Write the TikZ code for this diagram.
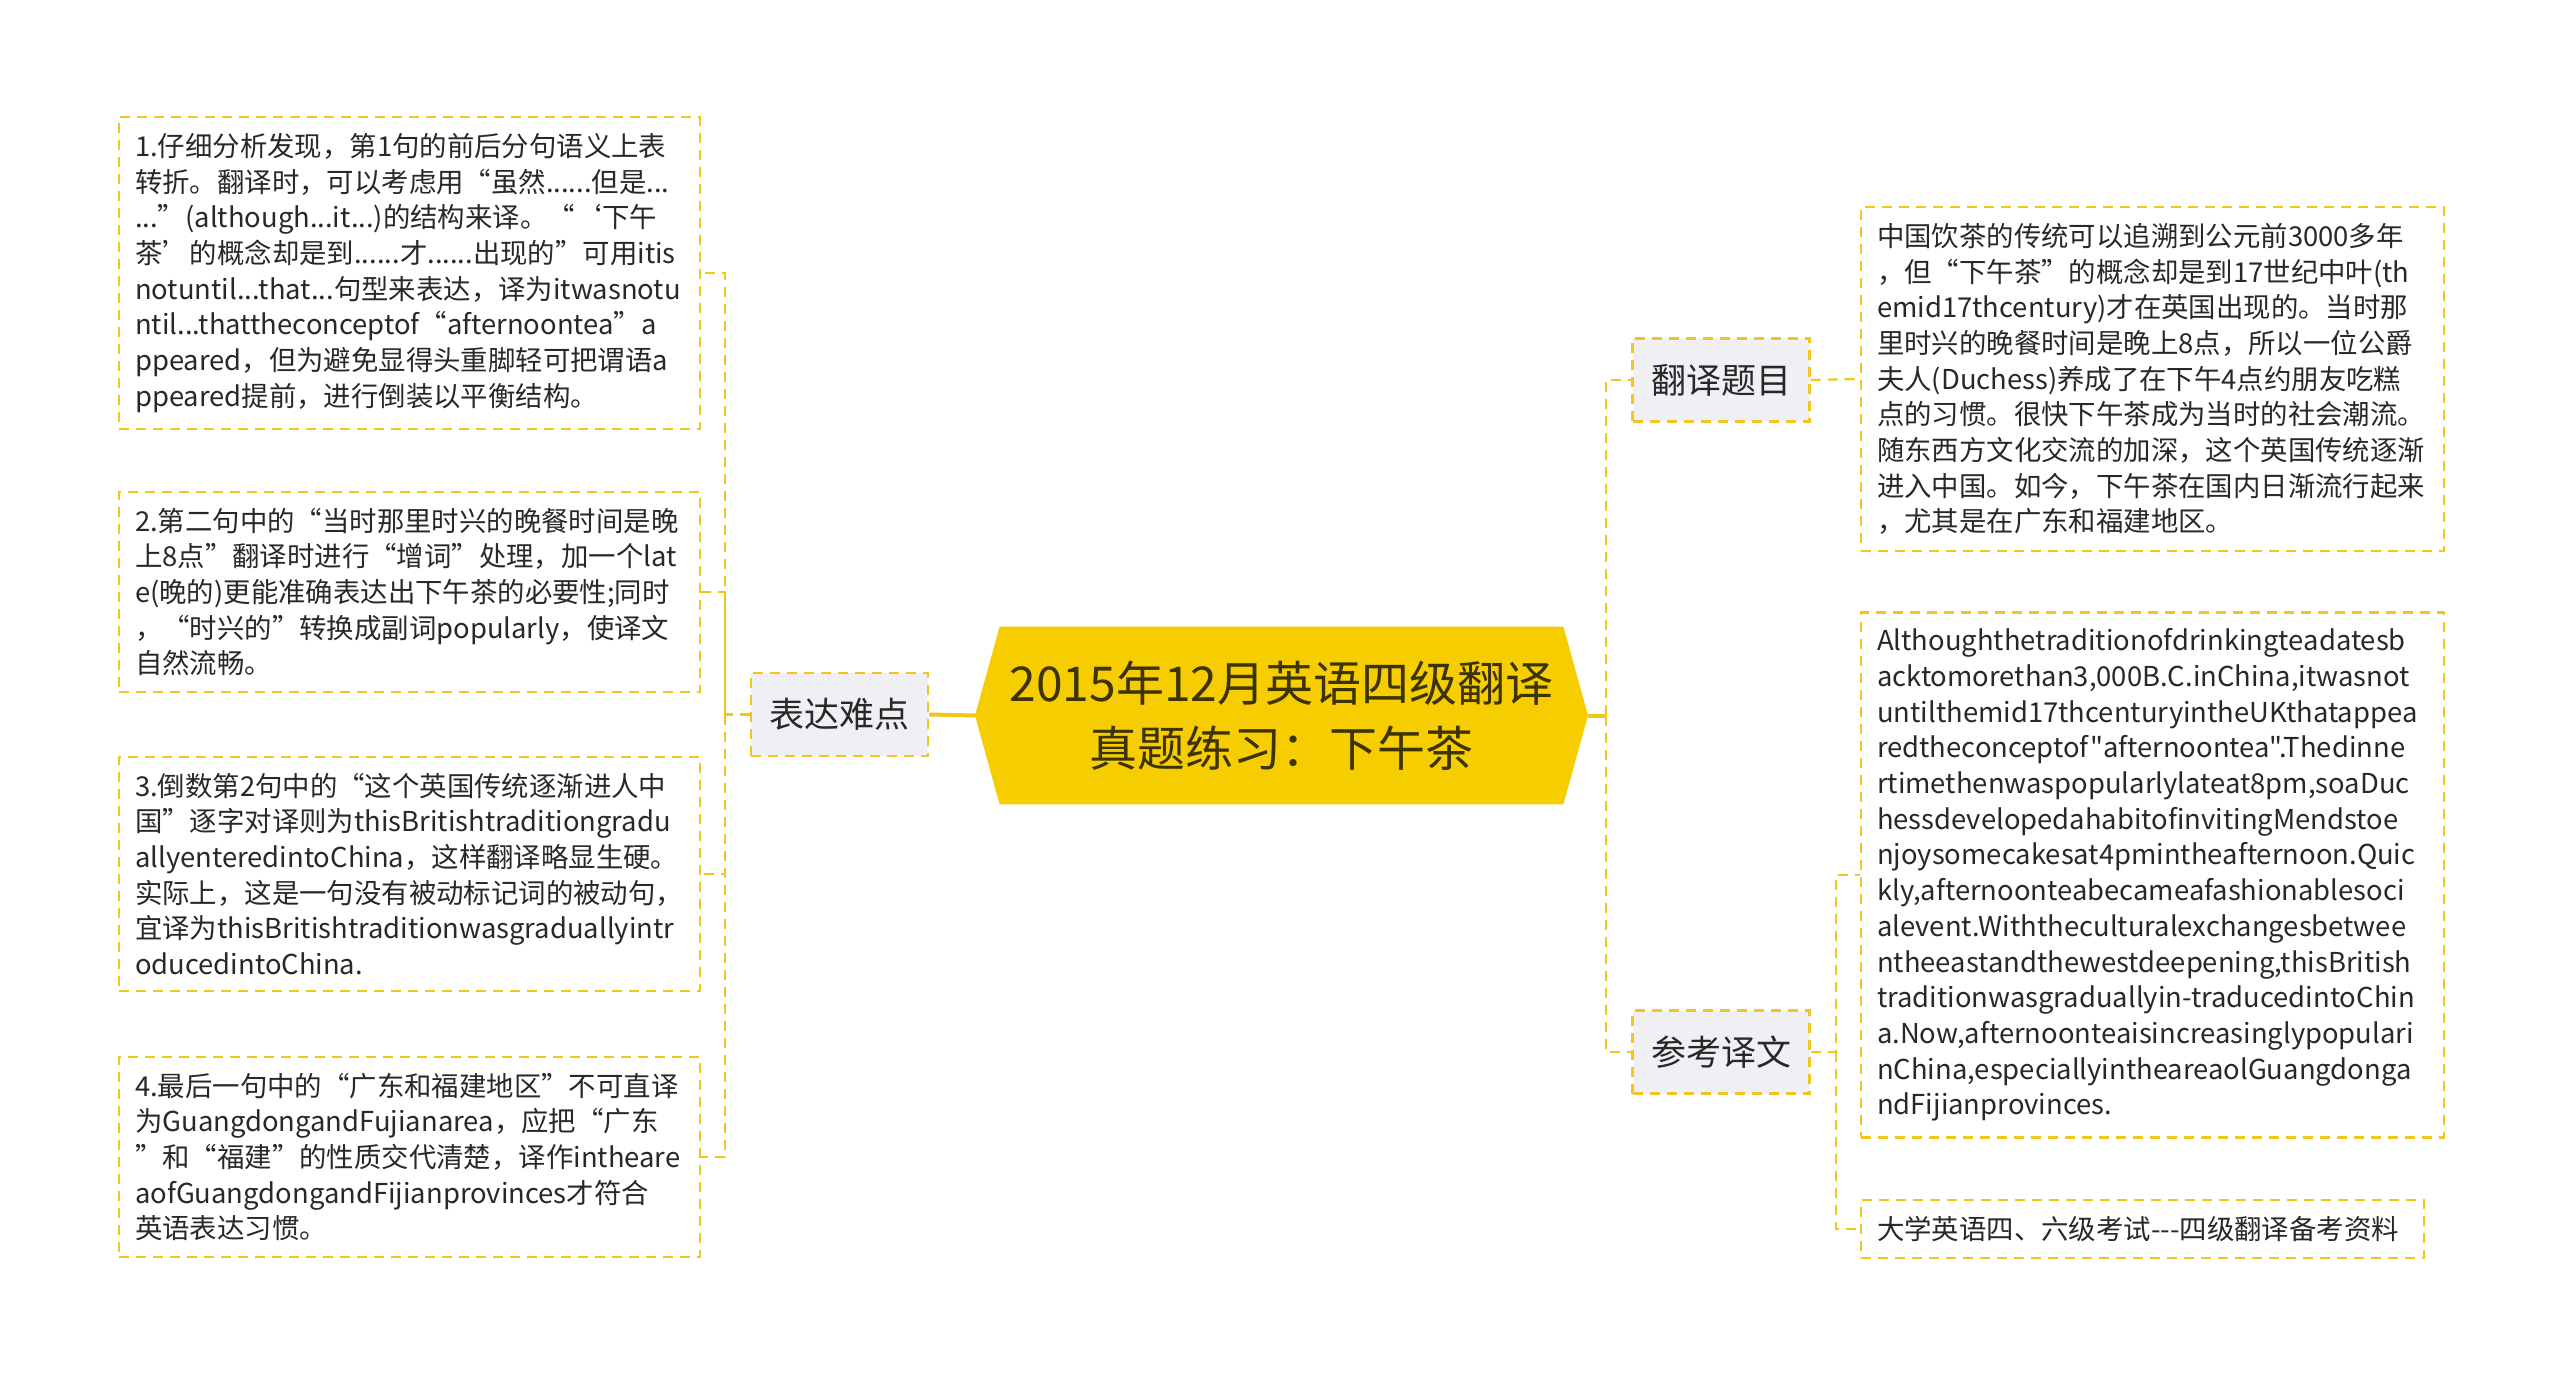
\documentclass[tikz,border=0pt]{standalone}
\usepackage{fontspec}
\setmainfont{Noto Sans CJK SC}[Ligatures=TeXOff]
\usepackage{tikz}
\usetikzlibrary{calc}
\usetikzlibrary{backgrounds}
\definecolor{gold}{RGB}{242,198,30}
\definecolor{titlefill}{RGB}{246,205,0}
\definecolor{titletext}{RGB}{61,51,0}
\definecolor{boxfill}{RGB}{238,240,243}
\definecolor{ink}{RGB}{40,40,40}
\tikzstyle{leaf} = [draw=gold, line width=1.1pt, dash pattern=on 5pt off 3.5pt, fill=white, anchor=west, inner xsep=8pt, inner ysep=8pt, align=left, text=ink, font=\fontsize{13.7pt}{17.85pt}\selectfont]
\tikzstyle{branch} = [draw=gold, line width=1.1pt, dash pattern=on 5pt off 3.5pt, fill=boxfill, minimum width=88.5pt, minimum height=41.5pt, inner sep=0, text=ink, font=\fontsize{17.5pt}{20pt}\selectfont]
\tikzstyle{link} = [draw=gold, line width=1.1pt, dash pattern=on 5pt off 3.5pt]
\tikzstyle{trunk} = [draw=gold, line width=2pt]

\begin{document}
\begin{tikzpicture}[x=0.5pt, y=-0.5pt]
\useasboundingbox (0,0) rectangle (2560,1379);
% root
\node [inner sep=0, minimum width=281.5pt, minimum height=88.5pt, align=center, text=titletext, font=\fontsize{24pt}{32.7pt}\selectfont] (title) at (1281.5,715.5) {2015年12月英语四级翻译\\真题练习：下午茶};
\coordinate (tipL) at (975,715.5);
\coordinate (tipR) at (1588,715.5);
\begin{scope}[on background layer]
\fill [white] (0,0) rectangle (2560,1379);
\fill [titlefill] (tipL) -- (title.north west) -- (title.north east) -- (tipR) -- (title.south east) -- (title.south west) -- cycle;
\end{scope}

% branches
\node [branch] (hard) at (839.5,714.5) {表达难点};
\node [branch] (topic) at (1721,380) {翻译题目};
\node [branch] (ref) at (1721,1052) {参考译文};

% left leaves
\node [leaf, text width=274.5pt] (tip1) at (118,273) {1.仔细分析发现，第1句的前后分句语义上表\\转折。翻译时，可以考虑用“虽然......但是...\\...”(although...it...)的结构来译。“‘下午\\茶’的概念却是到......才......出现的”可用itis\\notuntil...that...句型来表达，译为itwasnotu\\ntil...thattheconceptof“afternoontea”a\\ppeared，但为避免显得头重脚轻可把谓语a\\ppeared提前，进行倒装以平衡结构。};
\node [leaf, text width=274.5pt] (tip2) at (118,592) {2.第二句中的“当时那里时兴的晚餐时间是晚\\上8点”翻译时进行“增词”处理，加一个lat\\e(晚的)更能准确表达出下午茶的必要性;同时\\，“时兴的”转换成副词popularly，使译文\\自然流畅。};
\node [leaf, text width=274.5pt] (tip3) at (118,874) {3.倒数第2句中的“这个英国传统逐渐进人中\\国”逐字对译则为thisBritishtraditiongradu\\allyenteredintoChina，这样翻译略显生硬。\\实际上，这是一句没有被动标记词的被动句，\\宜译为thisBritishtraditionwasgraduallyintr\\oducedintoChina.};
\node [leaf, text width=274.5pt] (tip4) at (118,1157) {4.最后一句中的“广东和福建地区”不可直译\\为GuangdongandFujianarea，应把“广东\\”和“福建”的性质交代清楚，译作intheare\\aofGuangdongandFijianprovinces才符合\\英语表达习惯。};

% right leaves
\node [leaf, text width=275.5pt] (prompt) at (1860,379) {中国饮茶的传统可以追溯到公元前3000多年\\，但“下午茶”的概念却是到17世纪中叶(th\\emid17thcentury)才在英国出现的。当时那\\里时兴的晚餐时间是晚上8点，所以一位公爵\\夫人(Duchess)养成了在下午4点约朋友吃糕\\点的习惯。很快下午茶成为当时的社会潮流。\\随东西方文化交流的加深，这个英国传统逐渐\\进入中国。如今，下午茶在国内日渐流行起来\\，尤其是在广东和福建地区。};
\node [leaf, text width=275.5pt] (answer) at (1860,875) {Althoughthetraditionofdrinkingteadatesb\\acktomorethan3,000B.C.inChina,itwasnot\\untilthemid17thcenturyintheUKthatappea\\redtheconceptof"afternoontea".Thedinne\\rtimethenwaspopularlylateat8pm,soaDuc\\hessdevelopedahabitofinvitingMendstoe\\njoysomecakesat4pmintheafternoon.Quic\\kly,afternoonteabecameafashionablesoci\\alevent.Withtheculturalexchangesbetwee\\ntheeastandthewestdeepening,thisBritish\\traditionwasgraduallyin-traducedintoChin\\a.Now,afternoonteaisincreasinglypopulari\\nChina,especiallyintheareaolGuangdonga\\ndFijianprovinces.};
\node [leaf, text width=265.5pt] (source) at (1860,1229) {大学英语四、六级考试---四级翻译备考资料};

% connectors
\draw [trunk] (tipL) -- (hard.east);
\draw [trunk] (tipR) -- ++(18,0) coordinate (hubR);
\draw [link] (hubR) |- (topic.west);
\draw [link] (hubR) |- (ref.west);
\draw [link] (hard.west) -- ++(-25,0) coordinate (hubL) |- (tip1.east);
\draw [link] (hubL) |- (tip2.east);
\draw [link] (hubL) |- (tip3.east);
\draw [link] (hubL) |- (tip4.east);
\draw [link] (topic.east) -- (prompt.west);
\draw [link] (ref.east) -- ++(25,0) coordinate (hubB) |- (answer.west);
\draw [link] (hubB) |- (source.west);
\end{tikzpicture}
\end{document}
